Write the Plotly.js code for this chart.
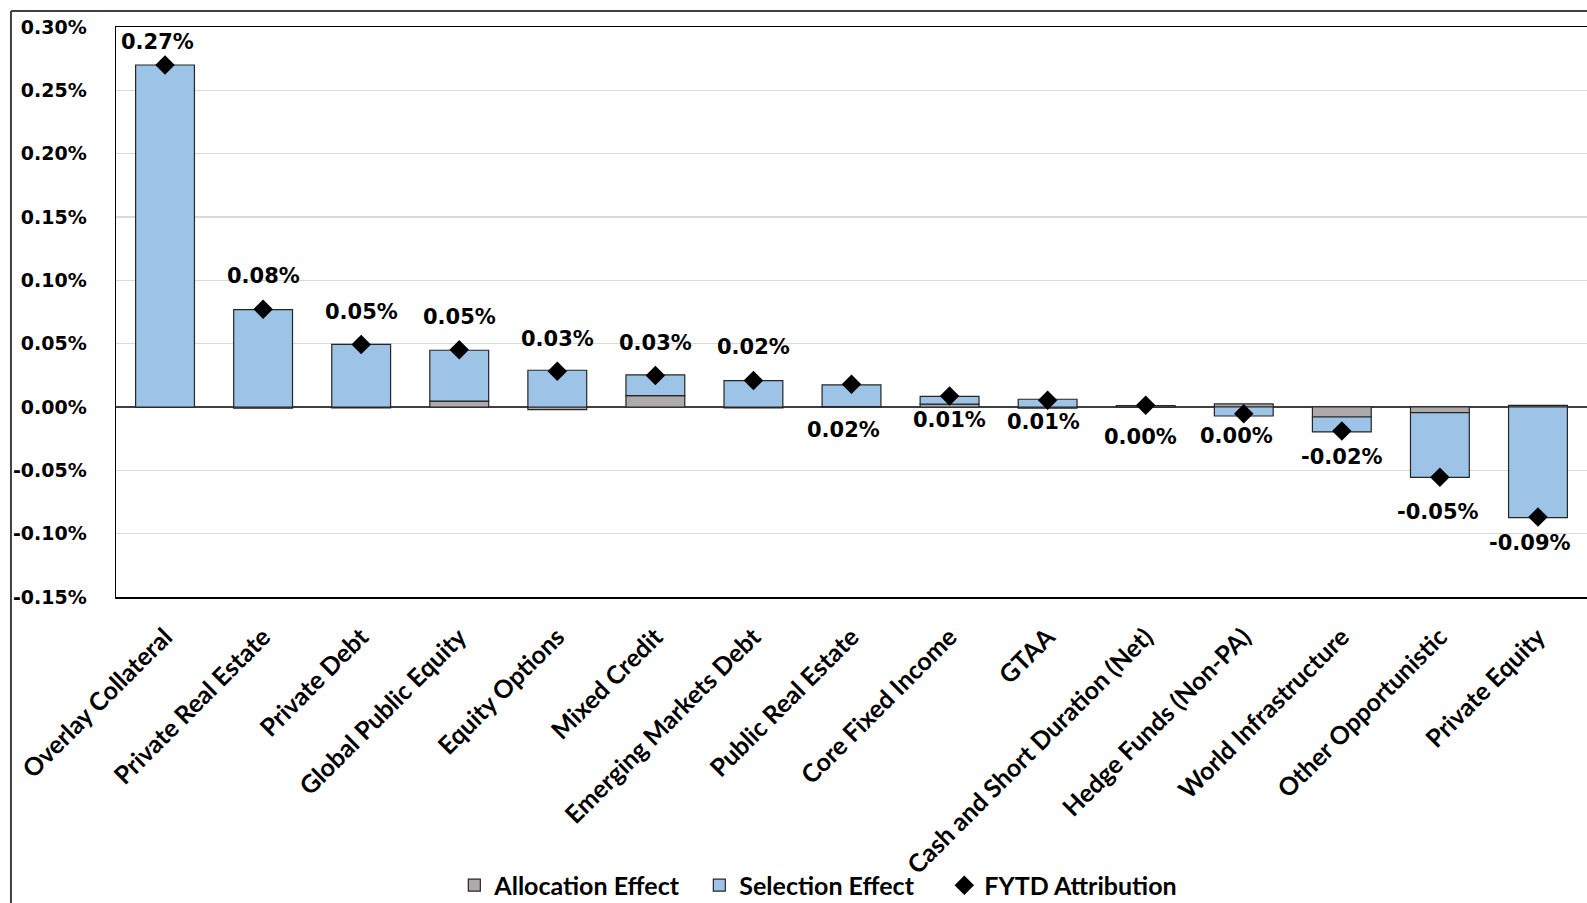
<!DOCTYPE html>
<html>
<head>
<meta charset="utf-8">
<script src="https://cdn.plot.ly/plotly-3.0.1.min.js"></script>
<style>
  html, body { margin: 0; padding: 0; background: #ffffff; }
  #chart { width: 1587px; height: 903px; }
</style>
</head>
<body>
<div id="chart"></div>
<script>
// ---- Data (values in percent) ----
const categories = [
  "Overlay Collateral", "Private Real Estate", "Private Debt", "Global Public Equity",
  "Equity Options", "Mixed Credit", "Emerging Markets Debt", "Public Real Estate",
  "Core Fixed Income", "GTAA", "Cash and Short Duration (Net)", "Hedge Funds (Non-PA)",
  "World Infrastructure", "Other Opportunistic", "Private Equity"
];
const allocationEffect = [0.0000, -0.0010, -0.0008, 0.0047, -0.0020, 0.0090, -0.0008, 0.0003, 0.0022, -0.0010, 0.0002, 0.0024, -0.0079, -0.0044, 0.0013];
const selectionEffect  = [0.2700, 0.0769, 0.0495, 0.0401, 0.0290, 0.0163, 0.0208, 0.0171, 0.0062, 0.0061, 0.0010, -0.0071, -0.0118, -0.0511, -0.0874];
const fytdAttribution  = [0.2700, 0.0772, 0.0493, 0.0452, 0.0282, 0.0248, 0.0210, 0.0180, 0.0087, 0.0053, 0.0013, -0.0053, -0.0190, -0.0555, -0.0869];
const fytdLabels = ["0.27%", "0.08%", "0.05%", "0.05%", "0.03%", "0.03%", "0.02%", "0.02%", "0.01%", "0.01%", "0.00%", "0.00%", "-0.02%", "-0.05%", "-0.09%"];
const yTickValues = [-0.15, -0.10, -0.05, 0.00, 0.05, 0.10, 0.15, 0.20, 0.25, 0.30];
const yTickLabels = ["-0.15%", "-0.10%", "-0.05%", "0.00%", "0.05%", "0.10%", "0.15%", "0.20%", "0.25%", "0.30%"];

// ---- Presentation ----
const labelShift = [23, 33, 33, 33, 32, 33, 33, -46, -24, -22, -32, -22, -26, -35, -26];
const labelXShift = [-8, 0, 0, 0, 0, 0, 0, -8, 0, -4, -5, -7, 0, -2, -8];
const numFont = { family: "DejaVu Sans", size: 19, color: "#000000", weight: 700 };
const textFont = { family: "Lato", size: 25, color: "#000000", weight: 700 };

const traces = [
  {
    type: "bar", name: "Allocation Effect", x: categories, y: allocationEffect,
    marker: { color: "#AEAAAA", line: { color: "#262626", width: 1.2 } },
    hoverinfo: "skip"
  },
  {
    type: "bar", name: "Selection Effect", x: categories, y: selectionEffect,
    marker: { color: "#9DC3E6", line: { color: "#262626", width: 1.2 } },
    hoverinfo: "skip"
  },
  {
    type: "scatter", mode: "markers", name: "FYTD Attribution", x: categories, y: fytdAttribution,
    marker: { symbol: "diamond", size: 15, color: "#000000" },
    hoverinfo: "skip"
  }
];

const annotations = categories.map((c, i) => ({
  x: c, y: fytdAttribution[i], xref: "x", yref: "y",
  text: fytdLabels[i], showarrow: false, yshift: labelShift[i], xshift: labelXShift[i],
  font: { family: "DejaVu Sans", size: 21, color: "#000000", weight: 700 }
}));

const layout = {
  width: 1587, height: 903,
  margin: { l: 116, r: 0, t: 27, b: 306, autoexpand: false },
  paper_bgcolor: "#ffffff", plot_bgcolor: "#ffffff",
  barmode: "relative", bargap: 0.4,
  showlegend: true,
  legend: {
    orientation: "h", x: 0.230, xanchor: "left", y: -0.506, yanchor: "middle",
    font: textFont, traceorder: "normal", itemwidth: 30,
    entrywidth: 200, entrywidthmode: "pixels", bgcolor: "rgba(0,0,0,0)"
  },
  xaxis: {
    type: "category", range: [-0.5, 14.5], tickangle: -45, tickfont: textFont,
    showline: true, mirror: true, linecolor: "#000000", linewidth: 1.5,
    showgrid: false, ticks: "", ticklabelstandoff: 14, zeroline: false
  },
  yaxis: {
    range: [-0.15, 0.30], tickvals: yTickValues, ticktext: yTickLabels,
    tickfont: numFont, ticks: "", ticklabelstandoff: 24,
    showline: true, mirror: true, linecolor: "#000000", linewidth: 1.5,
    showgrid: true, gridcolor: "#d9d9d9", gridwidth: 1.5,
    zeroline: true, zerolinecolor: "#404040", zerolinewidth: 1.2
  },
  annotations: annotations,
  shapes: [
    { type: "line", xref: "paper", yref: "paper", x0: -0.0714, x1: 1.05, y0: 1.0281, y1: 1.0281,
      line: { color: "#404040", width: 2 } },
    { type: "line", xref: "paper", yref: "paper", x0: -0.0714, x1: -0.0714, y0: 1.0281, y1: -0.7,
      line: { color: "#404040", width: 2 } }
  ]
};

Plotly.newPlot("chart", traces, layout, { displayModeBar: false, staticPlot: true });
</script>
</body>
</html>
